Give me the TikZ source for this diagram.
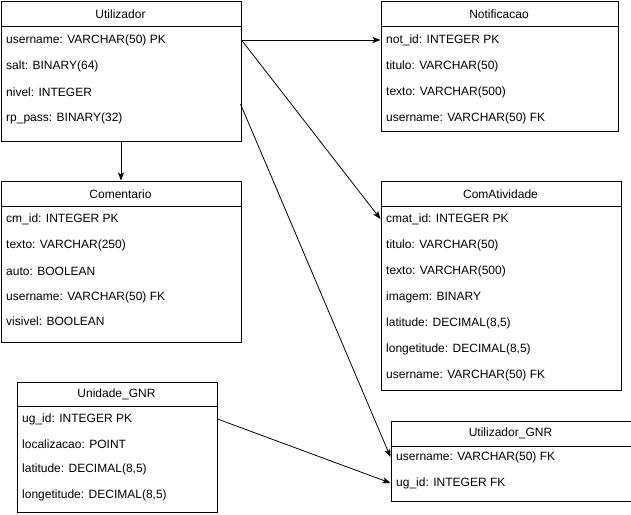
\documentclass[tikz,border=0pt]{standalone}
\usepackage{fontspec}
\setmainfont{Liberation Sans}
\usetikzlibrary{arrows.meta}
\begin{document}
\begin{tikzpicture}[x=1pt,y=-1pt,
  tbox/.style={draw, line width=1pt, inner sep=0pt, anchor=north west},
  hdr/.style={font=\fontsize{12}{14}\selectfont, inner sep=0pt, anchor=center},
  row/.style={font=\fontsize{12}{14}\selectfont, inner sep=0pt, anchor=west},
  hline/.style={line width=1pt},
  conn/.style={line width=0.8pt, -{Stealth[length=8pt,width=6pt,inset=2pt]}}]
\useasboundingbox (0,0) rectangle (631,514);
\fill[white] (0,0) rectangle (631,514);

% Utilizador
\node[tbox, minimum width=240pt, minimum height=140pt] (util) at (0.5,0.5) {};
\node[hdr] at (120.5,14) {Utilizador};
\draw[hline] (0.5,26.5) -- (240.5,26.5);
\node[row] (u1) at (6,40) {username: VARCHAR(50) PK};
\node[row] (u2) at (6,66) {salt: BINARY(64)};
\node[row] (u3) at (6,92) {nivel: INTEGER};
\node[row] (u4) at (6,118) {rp\_pass: BINARY(32)};

% Notificacao
\node[tbox, minimum width=237pt, minimum height=130pt] (notif) at (380.5,0.5) {};
\node[hdr] at (499,14) {Notificacao};
\draw[hline] (380.5,26.5) -- (617.5,26.5);
\node[row] (n1) at (386,40) {not\_id: INTEGER PK};
\node[row] (n2) at (386,66) {titulo: VARCHAR(50)};
\node[row] (n3) at (386,92) {texto: VARCHAR(500)};
\node[row] (n4) at (386,118) {username: VARCHAR(50) FK};

% Comentario
\node[tbox, minimum width=240pt, minimum height=161pt] (coment) at (0.5,180.5) {};
\node[hdr] at (120.5,194) {Comentario};
\draw[hline] (0.5,206.5) -- (240.5,206.5);
\node[row] (c1) at (6,219) {cm\_id: INTEGER PK};
\node[row] (c2) at (6,245) {texto: VARCHAR(250)};
\node[row] (c3) at (6,271) {auto: BOOLEAN};
\node[row] (c4) at (6,297) {username: VARCHAR(50) FK};
\node[row] (c5) at (6,321) {visivel: BOOLEAN};

% ComAtividade
\node[tbox, minimum width=240pt, minimum height=209pt] (comat) at (380.5,180.5) {};
\node[hdr] at (500.5,194) {ComAtividade};
\draw[hline] (380.5,206.5) -- (620.5,206.5);
\node[row] (a1) at (386,219) {cmat\_id: INTEGER PK};
\node[row] (a2) at (386,245) {titulo: VARCHAR(50)};
\node[row] (a3) at (386,271) {texto: VARCHAR(500)};
\node[row] (a4) at (386,297) {imagem: BINARY};
\node[row] (a5) at (386,323) {latitude: DECIMAL(8,5)};
\node[row] (a6) at (386,349) {longetitude: DECIMAL(8,5)};
\node[row] (a7) at (386,375) {username: VARCHAR(50) FK};

% Unidade_GNR
\node[tbox, minimum width=200pt, minimum height=130pt] (unid) at (16.5,381.5) {};
\node[hdr] at (116.5,394) {Unidade\_GNR};
\draw[hline] (16.5,406.5) -- (216.5,406.5);
\node[row] (d1) at (22,419) {ug\_id: INTEGER PK};
\node[row] (d2) at (22,444) {localizacao: POINT};
\node[row] (d3) at (22,469) {latitude: DECIMAL(8,5)};
\node[row] (d4) at (22,495) {longetitude: DECIMAL(8,5)};

% Utilizador_GNR
\node[tbox, minimum width=240pt, minimum height=80pt] (ugnr) at (390.5,420.5) {};
\node[hdr] at (510.5,433) {Utilizador\_GNR};
\draw[hline] (390.5,446.5) -- (630.5,446.5);
\node[row] (g1) at (396,457) {username: VARCHAR(50) FK};
\node[row] (g2) at (396,483) {ug\_id: INTEGER FK};

% connectors
\coordinate (utilr) at (240.5,104);
\draw[conn] (util.east |- u1) -- (notif.west |- n1);
\draw[conn] (util.east |- u1) -- (comat.west |- a1);
\draw[conn] (util.south) -- (coment.north);
\draw[conn] (utilr) -- (ugnr.west |- g1);
\draw[conn] (unid.east |- d1) -- (ugnr.west |- g2);
\end{tikzpicture}
\end{document}
